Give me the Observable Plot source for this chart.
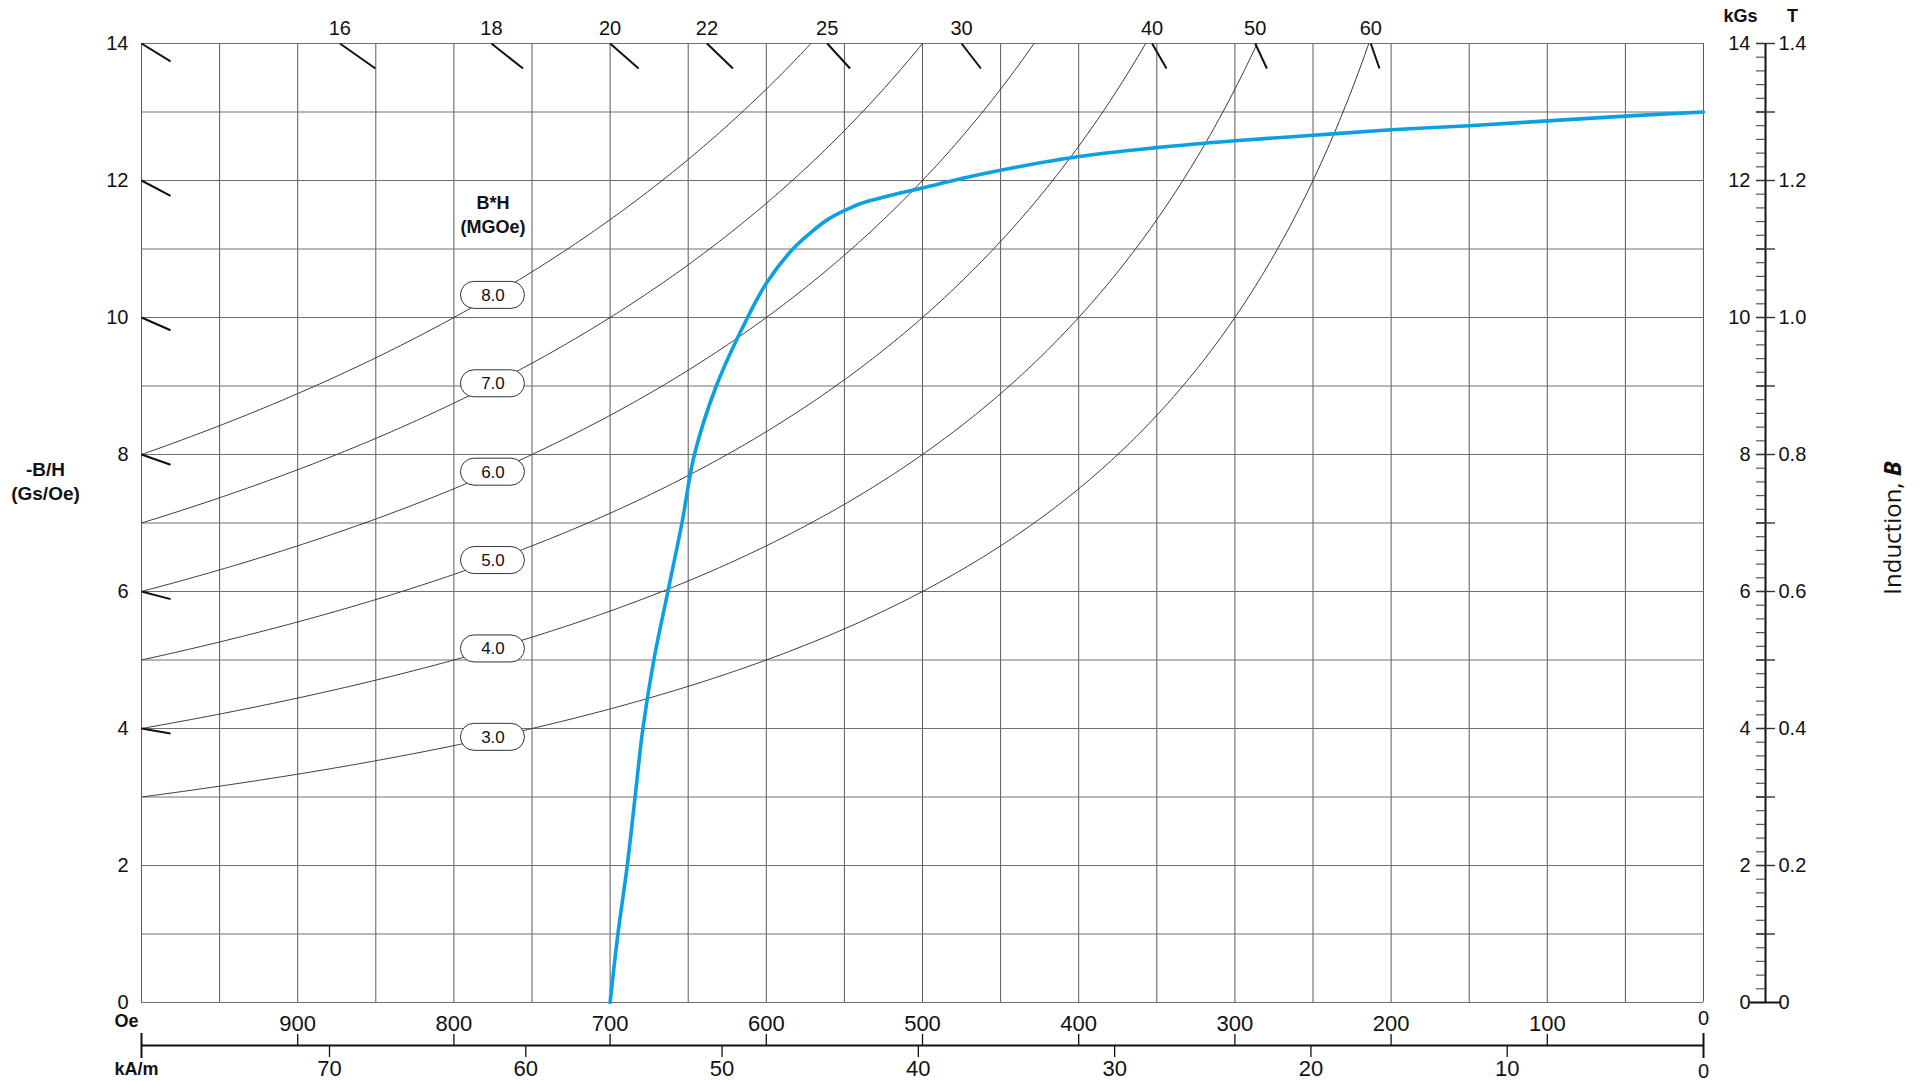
<!DOCTYPE html>
<html><head><meta charset="utf-8">
<script src="https://cdn.jsdelivr.net/npm/d3@7"></script>
<script src="https://cdn.jsdelivr.net/npm/@observablehq/plot@0.6"></script>
<style>
html,body{margin:0;padding:0;background:#fff;}
#wrap{position:relative;width:1926px;height:1081px;overflow:hidden;}
#ind{position:absolute;left:1891px;top:528px;transform:translate(-50%,-50%) rotate(-90deg);font:24px "Open Sans",sans-serif;white-space:nowrap;color:#111;}
</style></head>
<body><div id="wrap"><div id="chart"></div><div id="ind">Induction, <b><i>B</i></b></div></div>
<script>
// ---- data ----
// demagnetization curve: H (Oe) and B (kGs)
const demagH = [700, 695, 689, 684, 679, 672, 663, 654, 646, 632, 612, 600, 583, 570, 560, 550, 540, 527, 515, 500, 475, 450, 400, 350, 300, 250, 200, 150, 100, 50, 0];
const demagB = [0, 1, 2, 3, 4, 5, 6, 7, 8, 9, 10, 10.5, 11, 11.27, 11.44, 11.56, 11.66, 11.745, 11.815, 11.89, 12.03, 12.15, 12.35, 12.48, 12.58, 12.66, 12.74, 12.80, 12.87, 12.94, 13.0];
// iso-energy curves B*H (MGOe) and H where their labels sit
const energyValues = [8.0, 7.0, 6.0, 5.0, 4.0, 3.0];
const energyLabelH = 775;
// load lines -B/H marked on the left edge (H = 1000 Oe)
const leftLoadValues = [14, 12, 10, 8, 6, 4];
// load lines marked on the top edge: label and H (Oe) where they meet B = 14 kGs
const topLoadLabels = ["16", "18", "20", "22", "25", "30", "40", "50", "60"];
const topLoadH = [873, 776, 700, 638, 561, 475, 353, 287, 213];
// axis ticks
const gridH = d3.range(0, 1001, 50);
const gridB = d3.range(0, 15, 1);
const leftLabels = [0, 2, 4, 6, 8, 10, 12, 14];
const oeLabels = [900, 800, 700, 600, 500, 400, 300, 200, 100];
const kaLabels = [70, 60, 50, 40, 30, 20, 10];
const rightLabels = [0, 2, 4, 6, 8, 10, 12, 14];
const minorB = d3.range(0, 70.5, 1).map(i => i / 5);

// ---- layout ----
const W = 1926, HT = 1081, mL = 141, mR = 223, mT = 43, mB = 79;
const frameW = W - mL - mR, frameH = HT - mT - mB;
const OE_PER_KAM = 4 * Math.PI; // 1 kA/m ≈ 12.566 Oe

const demag = demagH.map((h, i) => ({H: h, B: demagB[i]}));
// B*H = const hyperbolas: B(kGs) = E(MGOe) / H(kOe)
const energyPts = [];
for (const E of energyValues) {
  const hMin = E * 1000 / 14;
  energyPts.push({E, H: hMin, B: 14});
  for (let h = Math.ceil(hMin); h <= 1000; h += 2) energyPts.push({E, H: h, B: E / (h / 1000)});
}
const topLoads = topLoadLabels.map((l, i) => ({label: l, H: topLoadH[i]}));
const segDropB = 0.365; // length of top markers (kGs)
const segDropH = 18.6;  // length of left markers (Oe)

const font = "'Liberation Sans', Arial, sans-serif";
const ink = "#111";

const chart = Plot.plot({
  width: W, height: HT,
  marginLeft: mL, marginRight: mR, marginTop: mT, marginBottom: mB,
  x: {domain: [1000, 0], axis: null},
  y: {domain: [0, 14], axis: null},
  style: {fontFamily: font, background: "#fff", color: ink, overflow: "visible"},
  marks: [
    Plot.ruleX(gridH, {stroke: "#5a5a5a", strokeWidth: 1}),
    Plot.ruleY(gridB, {stroke: "#707070", strokeWidth: 1.2}),
    Plot.line(energyPts, {x: "H", y: "B", z: "E", stroke: "#3a3a3a", strokeWidth: 1}),
    Plot.rect(energyValues, {x1: () => energyLabelH, x2: () => energyLabelH, y1: d => d / (energyLabelH / 1000), y2: d => d / (energyLabelH / 1000),
      insetLeft: -32, insetRight: -32, insetTop: -13.5, insetBottom: -13.5, rx: 13.5, fill: "#fff", stroke: "#333", strokeWidth: 1}),
    Plot.text(energyValues, {x: () => energyLabelH, y: d => d / (energyLabelH / 1000), text: d => d.toFixed(1), fontSize: 17, fill: ink}),
    Plot.text([energyValues[0]], {x: () => energyLabelH, y: d => d / (energyLabelH / 1000), dy: -82, text: () => "B*H\n(MGOe)", fontSize: 18, fontWeight: "bold", lineHeight: 1.3, fill: ink}),
    Plot.line(demag, {x: "H", y: "B", stroke: "#0ba0e1", strokeWidth: 3.6, curve: "catmull-rom"}),
    // load-line markers
    Plot.link(leftLoadValues, {x1: () => 1000, y1: d => d, x2: () => 1000 - segDropH, y2: d => d * (1000 - segDropH) / 1000, stroke: ink, strokeWidth: 2}),
    Plot.link(topLoads, {x1: "H", y1: () => 14, x2: d => d.H * (14 - segDropB) / 14, y2: () => 14 - segDropB, stroke: ink, strokeWidth: 2}),
    Plot.text(topLoads, {x: "H", y: () => 14, dy: -15, text: "label", fontSize: 20, fill: ink}),
    // left labels
    Plot.text(leftLabels, {y: d => d, frameAnchor: "left", dx: -13, textAnchor: "end", lineAnchor: "middle", text: d => String(d), fontSize: 20, fill: ink}),
    Plot.text(["-B/H\n(Gs/Oe)"], {frameAnchor: "left", dx: -96, dy: -43, textAnchor: "middle", lineAnchor: "middle", text: d => d, fontSize: 19, fontWeight: "bold", lineHeight: 1.3, fill: ink}),
    // right axis (kGs / T)
    Plot.ruleX([0], {dx: 62, y1: 0, y2: 14, stroke: ink, strokeWidth: 2}),
    Plot.tickY(minorB, {y: d => d, insetLeft: frameW - 9, dx: 62, stroke: "#555", strokeWidth: 1.2}),
    Plot.tickY(gridB.filter(d => d > 0), {y: d => d, insetLeft: frameW - 19, dx: 72, stroke: "#333", strokeWidth: 1.4}),
    Plot.tickY([0], {y: d => d, insetLeft: frameW - 31, dx: 78, stroke: ink, strokeWidth: 2}),
    Plot.text(rightLabels, {y: d => d, frameAnchor: "right", dx: 47, textAnchor: "end", lineAnchor: "middle", text: d => String(d), fontSize: 20, fill: ink}),
    Plot.text(rightLabels, {y: d => d, frameAnchor: "right", dx: 75, textAnchor: "start", lineAnchor: "middle", text: d => d === 0 ? "0" : (d / 10).toFixed(1), fontSize: 20, fill: ink}),
    Plot.text(["kGs"], {frameAnchor: "top-right", dx: 37, dy: -27, textAnchor: "middle", lineAnchor: "middle", text: d => d, fontSize: 18, fontWeight: "bold", fill: ink}),
    Plot.text(["T"], {frameAnchor: "top-right", dx: 89, dy: -27, textAnchor: "middle", lineAnchor: "middle", text: d => d, fontSize: 18, fontWeight: "bold", fill: ink}),
    // bottom axes (Oe above the line, kA/m below)
    Plot.text(oeLabels, {x: d => d, frameAnchor: "bottom", dy: 21, lineAnchor: "middle", text: d => String(d), fontSize: 22, fill: ink}),
    Plot.text([0], {x: d => d, frameAnchor: "bottom", dy: 16, lineAnchor: "middle", text: d => String(d), fontSize: 20, fill: ink}),
    Plot.tickX(oeLabels, {x: d => d, insetTop: frameH - 11, dy: 43, stroke: ink, strokeWidth: 1.3}),
    Plot.ruleY([0], {x1: () => 1000, x2: () => 0, dy: 43, stroke: ink, strokeWidth: 2.2}),
    Plot.tickX(kaLabels, {x: d => d * OE_PER_KAM, insetTop: frameH - 12, dy: 55, stroke: ink, strokeWidth: 1.3}),
    Plot.tickX([1000, 0], {x: d => d, insetTop: frameH - 25, dy: 56, stroke: ink, strokeWidth: 2}),
    Plot.text(kaLabels, {x: d => d * OE_PER_KAM, frameAnchor: "bottom", dy: 66, lineAnchor: "middle", text: d => String(d), fontSize: 22, fill: ink}),
    Plot.text([0], {x: d => d, frameAnchor: "bottom", dy: 69, lineAnchor: "middle", text: d => String(d), fontSize: 20, fill: ink}),
    Plot.text(["Oe"], {frameAnchor: "bottom-left", dx: -27, dy: 19, textAnchor: "start", lineAnchor: "middle", text: d => d, fontSize: 18, fontWeight: "bold", fill: ink}),
    Plot.text(["kA/m"], {frameAnchor: "bottom-left", dx: -27, dy: 67, textAnchor: "start", lineAnchor: "middle", text: d => d, fontSize: 18, fontWeight: "bold", fill: ink})
  ]
});
document.getElementById("chart").appendChild(chart);
</script>
</body></html>
